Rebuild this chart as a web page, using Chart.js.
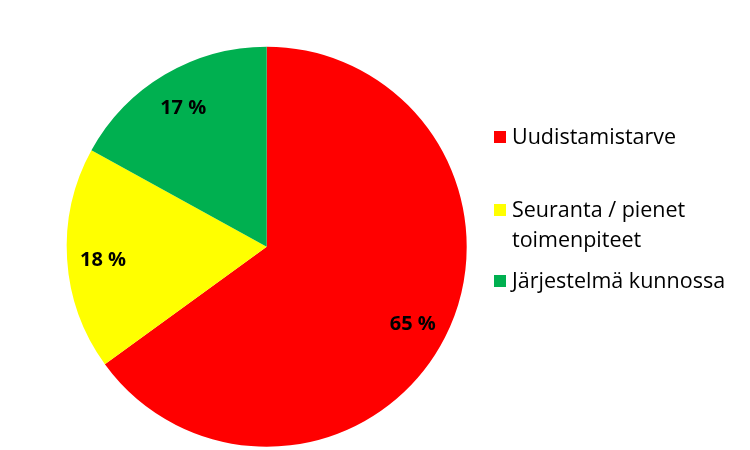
<!DOCTYPE html>
<html>
<head>
<meta charset="utf-8">
<script src="https://cdn.jsdelivr.net/npm/chart.js@4/dist/chart.umd.min.js"></script>
<style>
  html, body { margin: 0; padding: 0; background: #fff; }
  #wrap { width: 750px; height: 450px; position: relative; }
</style>
</head>
<body>
<div id="wrap"><canvas id="pie"></canvas></div>
<script>
const categories = ['Uudistamistarve', 'Seuranta / pienet toimenpiteet', 'Järjestelmä kunnossa']
const legendLines = [['Uudistamistarve'], ['Seuranta / pienet', 'toimenpiteet'], ['Järjestelmä kunnossa']]
const shares = [65, 18, 17]
const colors = ['#ff0000', '#ffff00', '#00b050']

// percent labels inside slices
const sliceLabels = {
  id: 'sliceLabels',
  afterDatasetsDraw(chart) {
    const ctx = chart.ctx
    const meta = chart.getDatasetMeta(0)
    ctx.save()
    ctx.font = 'bold 20px "Open Sans", "Liberation Sans", sans-serif'
    ctx.fillStyle = '#000'
    ctx.textAlign = 'center'
    ctx.textBaseline = 'middle'
    meta.data.forEach((arc, i) => {
      const mid = (arc.startAngle + arc.endAngle) / 2
      const r = arc.outerRadius * 0.82
      ctx.fillText(shares[i] + ' %', arc.x + Math.cos(mid) * r, arc.y + Math.sin(mid) * r + 3)
    })
    ctx.restore()
  }
}

// legend to the right, second item wraps onto two lines
const sideLegend = {
  id: 'sideLegend',
  afterDraw(chart) {
    const ctx = chart.ctx
    const rows = [144, 217, 288]
    ctx.save()
    ctx.font = '21.5px "Open Sans", "Liberation Sans", sans-serif'
    ctx.textBaseline = 'alphabetic'
    ctx.textAlign = 'left'
    legendLines.forEach((lines, i) => {
      const base = rows[i]
      ctx.fillStyle = colors[i]
      ctx.fillRect(494, base - 13, 12, 12)
      ctx.fillStyle = '#000'
      lines.forEach((t, k) => ctx.fillText(t, 512, base + k * 30))
    })
    ctx.restore()
  }
}

new Chart(document.getElementById('pie'), {
  type: 'pie',
  data: {
    labels: categories,
    datasets: [{
      data: shares,
      backgroundColor: colors,
      borderWidth: 0
    }]
  },
  options: {
    responsive: true,
    maintainAspectRatio: false,
    animation: false,
    layout: {
      padding: { left: 66.7, top: 46.7, right: 283.3, bottom: 3.3 }
    },
    plugins: {
      legend: { display: false },
      tooltip: { enabled: false }
    }
  },
  plugins: [sliceLabels, sideLegend]
})
</script>
</body>
</html>
